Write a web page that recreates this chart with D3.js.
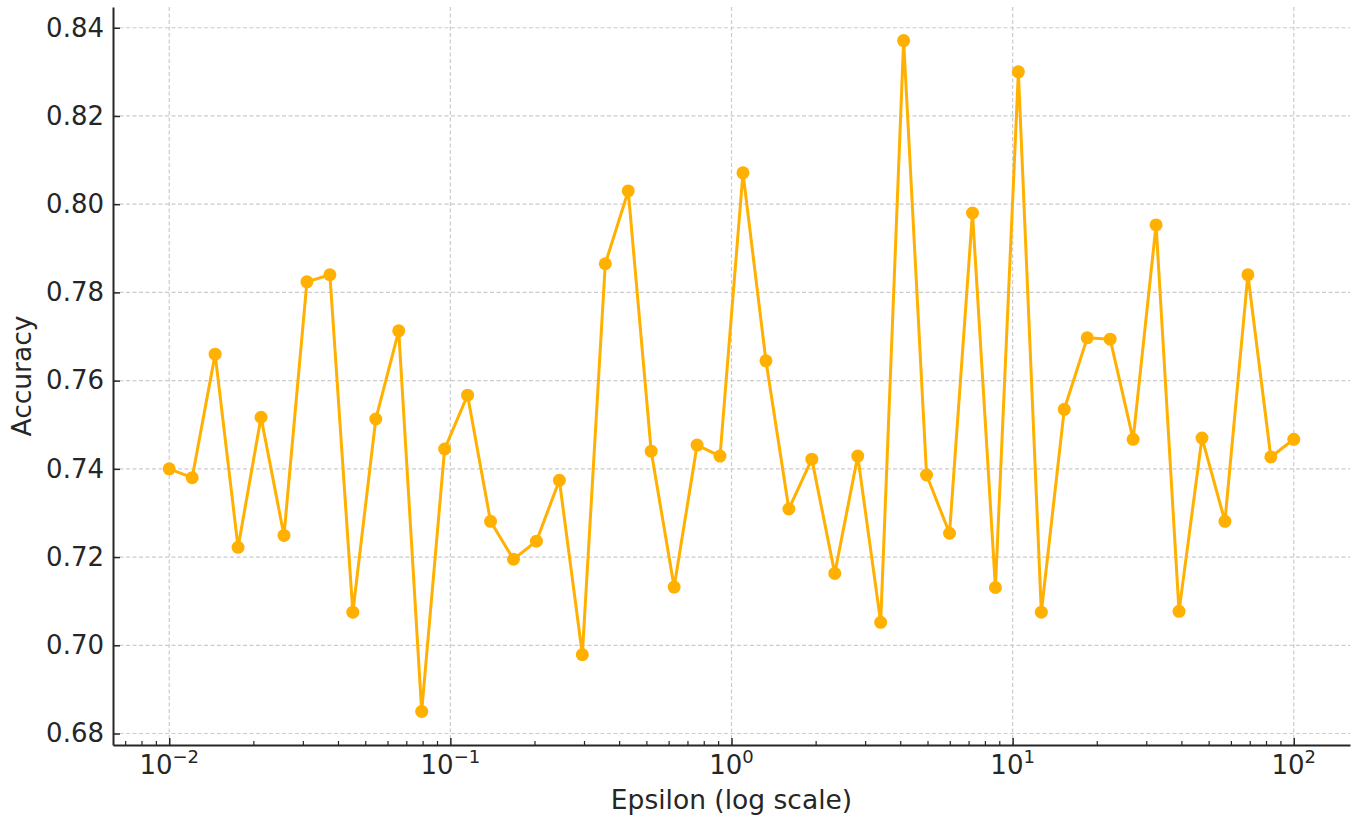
<!DOCTYPE html>
<html>
<head>
<meta charset="utf-8">
<script src="https://cdn.jsdelivr.net/npm/d3@7"></script>
<style>
  body { margin: 0; background: #fff; }
  svg { display: block; font-family: 'DejaVu Sans', sans-serif; }
</style>
</head>
<body>
<svg width="1353" height="816"></svg>
<script>
// epsilon values (50 log-spaced points from 1e-2 to 1e2)
const epsilons = [
  0.01, 0.012068, 0.014563, 0.017575, 0.021210, 0.025595, 0.030888, 0.037276, 0.044984, 0.054287,
  0.065513, 0.079060, 0.095410, 0.115140, 0.138950, 0.167683, 0.202359, 0.244205, 0.294705, 0.355648,
  0.429193, 0.517947, 0.625055, 0.754312, 0.910298, 1.098541, 1.325711, 1.599859, 1.930698, 2.329952,
  2.811769, 3.393222, 4.094915, 4.941713, 5.963623, 7.196857, 8.685114, 10.481131, 12.648552, 15.264180,
  18.420700, 22.229965, 26.826958, 32.374575, 39.069399, 47.148664, 56.898660, 68.664885, 82.864277, 100
];
const accuracy = [
  0.740, 0.738, 0.766, 0.7222, 0.7517, 0.7249, 0.7824, 0.784, 0.7075, 0.7513,
  0.7713, 0.685, 0.7445, 0.7567, 0.7281, 0.7195, 0.7236, 0.7374, 0.6979, 0.7865,
  0.803, 0.744, 0.7132, 0.7454, 0.7429, 0.8071, 0.7645, 0.7309, 0.7422, 0.7163,
  0.7429, 0.7052, 0.8371, 0.7386, 0.7254, 0.798, 0.7131, 0.830, 0.7075, 0.7535,
  0.7697, 0.7694, 0.7467, 0.7953, 0.7077, 0.747, 0.7281, 0.784, 0.7427, 0.7467
];
const xTicks = [0.01, 0.1, 1, 10, 100];
const xTickExp = ['\u22122', '\u22121', '0', '1', '2'];
const yTicks = [0.68, 0.70, 0.72, 0.74, 0.76, 0.78, 0.80, 0.82, 0.84];
const xLabelText = 'Epsilon (log scale)';
const yLabelText = 'Accuracy';

const svg = d3.select('svg');
const margin = { top: 7, right: 3, bottom: 71, left: 113 };
const width = +svg.attr('width');
const height = +svg.attr('height');
const innerWidth = width - margin.left - margin.right;
const innerHeight = height - margin.top - margin.bottom;

const fontFamily = "'DejaVu Sans', sans-serif";
const lineColor = '#ffb000';
const gridColor = '#cccccc';
const axisColor = '#262626';

// matplotlib-style 5% padding
const logMin = Math.log10(d3.min(epsilons)), logMax = Math.log10(d3.max(epsilons));
const lpad = (logMax - logMin) * 0.05;
const xScale = d3.scaleLog()
  .domain([Math.pow(10, logMin - lpad), Math.pow(10, logMax + lpad)])
  .range([0, innerWidth]);

const yMin = d3.min(accuracy), yMax = d3.max(accuracy);
const ypad = (yMax - yMin) * 0.05;
const yScale = d3.scaleLinear()
  .domain([yMin - ypad, yMax + ypad])
  .range([innerHeight, 0]);

const g = svg.append('g')
  .attr('transform', `translate(${margin.left},${margin.top})`);

// grid
g.append('g').selectAll('line').data(xTicks).enter().append('line')
  .attr('x1', d => xScale(d)).attr('x2', d => xScale(d))
  .attr('y1', 0).attr('y2', innerHeight)
  .attr('stroke', gridColor).attr('stroke-width', 1.2)
  .attr('stroke-dasharray', '4,2.5');
g.append('g').selectAll('line').data(yTicks).enter().append('line')
  .attr('x1', 0).attr('x2', innerWidth)
  .attr('y1', d => yScale(d)).attr('y2', d => yScale(d))
  .attr('stroke', gridColor).attr('stroke-width', 1.2)
  .attr('stroke-dasharray', '4,2.5');

// minor ticks on x
const minorTicks = [];
for (let e = -3; e <= 2; e++) {
  for (let m = 2; m <= 9; m++) {
    const v = m * Math.pow(10, e);
    if (v >= xScale.domain()[0] && v <= xScale.domain()[1]) minorTicks.push(v);
  }
}
g.append('g').selectAll('line').data(minorTicks).enter().append('line')
  .attr('x1', d => xScale(d)).attr('x2', d => xScale(d))
  .attr('y1', innerHeight).attr('y2', innerHeight - 4)
  .attr('stroke', axisColor).attr('stroke-width', 1.2);

// x axis
const xAxis = d3.axisBottom(xScale)
  .tickValues(xTicks)
  .tickSizeInner(-7)
  .tickSizeOuter(0)
  .tickFormat('');
const xAxisG = g.append('g')
  .attr('transform', `translate(0,${innerHeight})`)
  .call(xAxis);
xAxisG.select('.domain').attr('stroke', axisColor).attr('stroke-width', 2);
xAxisG.selectAll('.tick line').attr('stroke', axisColor).attr('stroke-width', 1.5);
xAxisG.selectAll('.tick text').remove();

// tick labels 10^n: base and exponent as two texts, centred together
const baseY = margin.top + innerHeight + 29;
xTicks.forEach((v, i) => {
  const base = svg.append('text')
    .attr('y', baseY)
    .attr('font-family', fontFamily)
    .attr('font-size', 26)
    .attr('fill', axisColor)
    .text('10');
  const sup = svg.append('text')
    .attr('y', baseY - 11)
    .attr('font-family', fontFamily)
    .attr('font-size', 18)
    .attr('fill', axisColor)
    .text(xTickExp[i]);
  const wb = base.node().getComputedTextLength();
  const ws = sup.node().getComputedTextLength();
  const x0 = margin.left + xScale(v) - (wb + ws) / 2;
  base.attr('x', x0);
  sup.attr('x', x0 + wb);
});

// y axis
const yAxis = d3.axisLeft(yScale)
  .tickValues(yTicks)
  .tickSizeInner(-7)
  .tickSizeOuter(0)
  .tickFormat(d3.format('.2f'));
const yAxisG = g.append('g').call(yAxis);
yAxisG.select('.domain').attr('stroke', axisColor).attr('stroke-width', 2);
yAxisG.selectAll('.tick line').attr('stroke', axisColor).attr('stroke-width', 1.5);
yAxisG.selectAll('.tick text')
  .attr('font-family', fontFamily)
  .attr('font-size', 26)
  .attr('fill', axisColor)
  .attr('x', -9);

// line + markers
const line = d3.line()
  .x((d, i) => xScale(epsilons[i]))
  .y(d => yScale(d));
g.append('path')
  .datum(accuracy)
  .attr('fill', 'none')
  .attr('stroke', lineColor)
  .attr('stroke-width', 3)
  .attr('stroke-linejoin', 'round')
  .attr('d', line);
g.selectAll('circle').data(accuracy).enter().append('circle')
  .attr('cx', (d, i) => xScale(epsilons[i]))
  .attr('cy', d => yScale(d))
  .attr('r', 6.5)
  .attr('fill', lineColor);

// axis labels
svg.append('text')
  .attr('x', margin.left + innerWidth / 2)
  .attr('y', 809)
  .attr('text-anchor', 'middle')
  .attr('font-size', 26.5)
  .attr('fill', axisColor)
  .text(xLabelText);
svg.append('text')
  .attr('transform', `translate(31,${margin.top + innerHeight / 2}) rotate(-90)`)
  .attr('text-anchor', 'middle')
  .attr('font-size', 26.5)
  .attr('fill', axisColor)
  .text(yLabelText);
</script>
</body>
</html>
